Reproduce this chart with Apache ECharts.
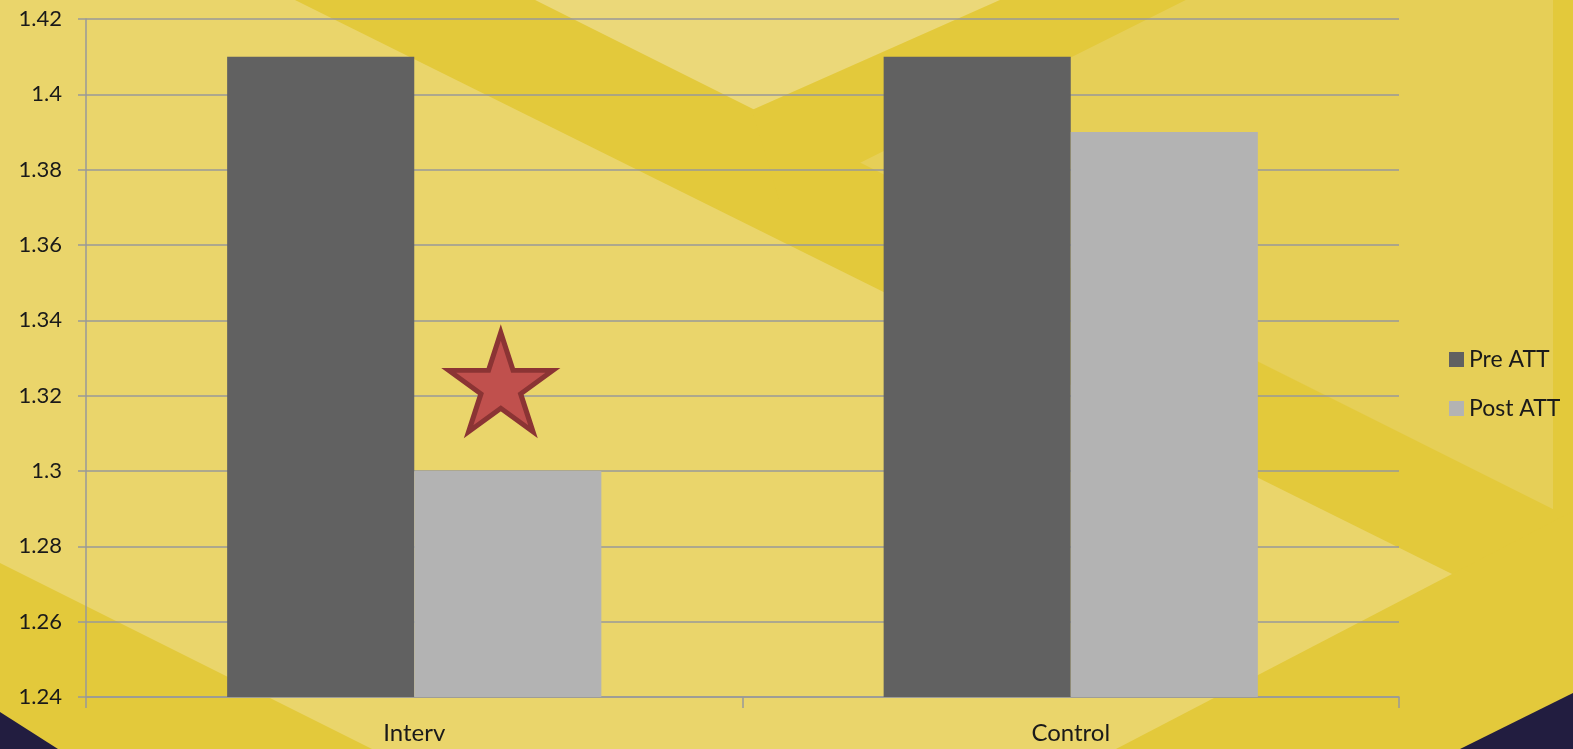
<!DOCTYPE html>
<html>
<head>
<meta charset="utf-8">
<script src="https://cdn.jsdelivr.net/npm/echarts@6/dist/echarts.min.js"></script>
<style>
html,body{margin:0;padding:0;background:#EAD56B;}
#chart{width:1573px;height:749px;}
</style>
</head>
<body>
<div id="chart"></div>
<script>
const categories = ['Interv', 'Control'];
const preATT = [1.41, 1.41];
const postATT = [1.30, 1.39];
const seriesNames = ['Pre ATT', 'Post ATT'];
const yMin = 1.24, yMax = 1.42, yStep = 0.02;
const starAt = ['Interv', 1.3236];

const STAR = 'path://M0,-100 L22.45,-30.9 L95.1,-30.9 L36.3,11.8 L58.8,80.9 L0,38.2 L-58.8,80.9 L-36.3,11.8 L-95.1,-30.9 L-22.45,-30.9 Z';

const DARK = '#E3C93B', MED = '#E6CF57', LIGHT = '#EBD879', NAVY = '#221D40';
function poly(points, fill) {
  return { type: 'polygon', z: -100, silent: true, shape: { points: points }, style: { fill: fill } };
}
const bg = [
  poly([[1186,0],[1573,0],[1573,519],[860,163]], MED),
  poly([[1553,0],[1573,0],[1573,749],[1553,749]], DARK),
  poly([[535,0],[1000,0],[752,110]], LIGHT),
  poly([[295,0],[535,0],[1573,519],[1573,634]], DARK),
  poly([[1000,0],[1186,0],[780,203],[752,110]], DARK),
  poly([[1116,749],[1573,511],[1573,749]], DARK),
  poly([[0,563],[372,749],[0,749]], DARK),
  poly([[0,712],[58,749],[0,749]], NAVY),
  poly([[1460,749],[1573,693],[1573,749]], NAVY)
];

const chart = echarts.init(document.getElementById('chart'));
const FONT = 'Lato';
chart.setOption({
  backgroundColor: '#EAD56B',
  animation: false,
  graphic: { elements: bg },
  grid: { left: 86, right: 174, top: 19, bottom: 52, containLabel: false },
  legend: {
    orient: 'vertical', left: 1444, top: 343,
    icon: 'rect', itemWidth: 15, itemHeight: 15, itemGap: 26,
    textStyle: { fontFamily: FONT, fontSize: 23, lineHeight: 22, color: '#1a1a1a' },
    data: seriesNames
  },
  xAxis: {
    type: 'category', data: categories,
    axisLine: { lineStyle: { color: '#999999', width: 1.5 } },
    axisTick: { show: true, length: 11, lineStyle: { color: '#999999', width: 1.5 } },
    axisLabel: { fontFamily: FONT, fontSize: 24, color: '#1a1a1a', margin: 24 }
  },
  yAxis: {
    type: 'value', min: yMin, max: yMax, interval: yStep,
    axisLine: { show: true, lineStyle: { color: '#999999', width: 1.5 } },
    axisTick: { show: true, length: 8, lineStyle: { color: '#999999', width: 1.5 } },
    axisLabel: { fontFamily: FONT, fontSize: 22, color: '#1a1a1a', margin: 24 },
    splitLine: { show: true, lineStyle: { color: '#999999', width: 1.5 } }
  },
  series: [
    {
      name: seriesNames[0], type: 'bar', data: preATT,
      barGap: '0%', barCategoryGap: '43%',
      itemStyle: { color: '#616161' }
    },
    {
      name: seriesNames[1], type: 'bar', data: postATT,
      barGap: '0%', barCategoryGap: '43%',
      itemStyle: { color: '#B3B3B3' },
      markPoint: {
        symbol: STAR, symbolSize: [104, 99], symbolOffset: [-7, 0], symbolKeepAspect: false,
        label: { show: false },
        itemStyle: { color: '#C0504D', borderColor: '#8B3434', borderWidth: 5 },
        data: [{ coord: starAt }]
      }
    }
  ]
});
</script>
</body>
</html>
